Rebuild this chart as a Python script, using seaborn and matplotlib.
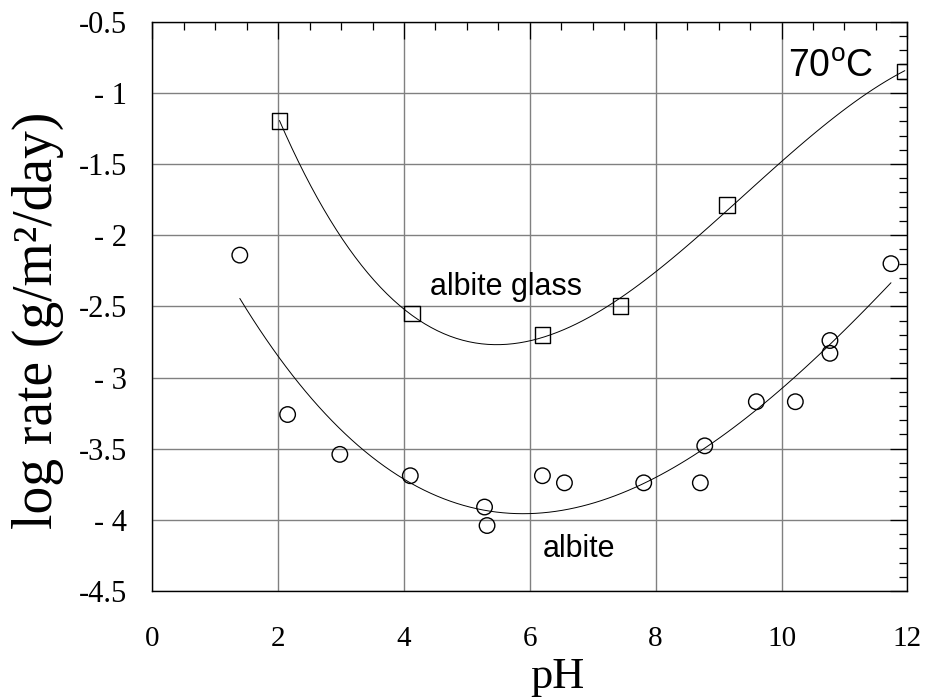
import numpy as np
import pandas as pd
import matplotlib
matplotlib.use("Agg")
import matplotlib.pyplot as plt
from matplotlib.ticker import MultipleLocator, FixedLocator
import seaborn as sns

# ---- data ----
glass_ph = [2.02, 4.13, 6.20, 7.44, 9.13, 11.96]
glass_rate = [-1.20, -2.55, -2.70, -2.50, -1.79, -0.85]

albite_ph = [1.39, 2.15, 2.98, 4.10, 5.28, 5.32, 6.20, 6.55, 7.81, 8.71,
             8.78, 9.60, 10.22, 10.77, 10.77, 11.74]
albite_rate = [-2.14, -3.26, -3.54, -3.69, -3.91, -4.04, -3.69, -3.74, -3.74, -3.74,
               -3.48, -3.17, -3.17, -2.74, -2.83, -2.20]

y_ticks = [-4.5, -4.0, -3.5, -3.0, -2.5, -2.0, -1.5, -1.0, -0.5]
y_tick_labels = ["-4.5", "- 4", "-3.5", "- 3", "-2.5", "- 2", "-1.5", "- 1", "-0.5"]
x_ticks = [0, 2, 4, 6, 8, 10, 12]
x_tick_labels = ["0", "2", "4", "6", "8", "10", "12"]

glass = pd.DataFrame({"pH": glass_ph, "rate": glass_rate})
albite = pd.DataFrame({"pH": albite_ph, "rate": albite_rate})

sns.set_theme(style="white")
plt.rcParams["font.family"] = ["Liberation Serif", "DejaVu Serif"]
plt.rcParams["mathtext.fontset"] = "custom"
plt.rcParams["mathtext.rm"] = "Liberation Sans"
for k in ["text.color", "axes.labelcolor", "xtick.color", "ytick.color",
          "xtick.labelcolor", "ytick.labelcolor"]:
    plt.rcParams[k] = "black"

fig = plt.figure(figsize=(9.25, 7.0), dpi=100)
ax = fig.add_axes([0.1647, 0.1557, 0.8162, 0.8133])

# fitted curves (cubic regression)
line_kws = dict(color="black", lw=0.7, zorder=2)
sns.regplot(data=glass, x="pH", y="rate", order=3, ci=None, scatter=False,
            truncate=True, line_kws=line_kws, ax=ax)
sns.regplot(data=albite, x="pH", y="rate", order=3, ci=None, scatter=False,
            truncate=True, line_kws=line_kws, ax=ax)

# markers
sns.scatterplot(data=glass, x="pH", y="rate", marker="s", s=130,
                facecolor="none", edgecolor="black", linewidth=1.0, zorder=3, ax=ax)
sns.scatterplot(data=albite, x="pH", y="rate", marker="o", s=125,
                facecolor="none", edgecolor="black", linewidth=1.0, zorder=3, ax=ax)

ax.set_xlim(0, 12)
ax.set_ylim(-4.5, -0.5)

ax.xaxis.set_major_locator(FixedLocator(x_ticks))
ax.set_xticklabels(x_tick_labels)
ax.xaxis.set_minor_locator(MultipleLocator(0.5))
ax.yaxis.set_major_locator(FixedLocator(y_ticks))
ax.set_yticklabels(y_tick_labels)
ax.yaxis.set_minor_locator(MultipleLocator(0.1))

ax.grid(True, which="major", color="#808080", lw=1.0)
ax.set_axisbelow(True)

ax.tick_params(which="both", direction="in", top=True, right=True,
               color="black", width=0.9, labelcolor="black")
ax.tick_params(which="major", length=12)
ax.tick_params(which="minor", length=6)
ax.tick_params(axis="x", which="major", pad=25, labelsize=21)
ax.tick_params(axis="y", which="major", pad=18, labelsize=22)

for s in ax.spines.values():
    s.set_color("black")
    s.set_linewidth(1.0)

ax.set_xlabel("pH", fontsize=32, color="black")
ax.xaxis.set_label_coords(0.537, -0.1704)
ax.xaxis.label.set_verticalalignment("baseline")

ax.set_ylabel("log rate (g/m²/day)", fontsize=40, color="black")
ax.yaxis.label.set_rotation_mode("default")
ax.yaxis.label.set_verticalalignment("center")
ax.yaxis.label.set_horizontalalignment("center")
ax.yaxis.set_label_coords(-0.151, 0.476)

sans = ["Liberation Sans", "DejaVu Sans"]
ax.text(10.11, -0.889, r"70$^{\rm o}$C", fontsize=27, family=sans, va="baseline",
        color="black")
ax.text(4.42, -2.42, "albite glass", fontsize=22, family=sans, va="baseline",
        color="black")
ax.text(6.2, -4.26, "albite", fontsize=22, family=sans, va="baseline", color="black")

fig.savefig("out.png", dpi=100)
